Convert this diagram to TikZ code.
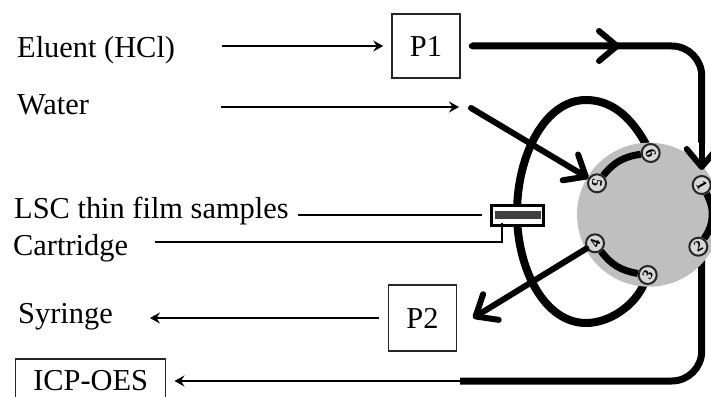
\documentclass[tikz,border=0pt]{standalone}
\usepackage{fontspec}
\setmainfont{Liberation Serif}
\usepackage{xcolor}
\usetikzlibrary{arrows.meta, backgrounds}
\definecolor{discgray}{RGB}{191,191,191}
\definecolor{bargray}{RGB}{64,64,64}
\definecolor{portgray}{RGB}{215,215,215}
\tikzset{
  label/.style={anchor=base west, inner sep=0pt, font=\fontsize{30.4}{32}\selectfont},
  boxnode/.style={draw=black!85, line width=1.5pt, inner sep=0pt, font=\fontsize{30.4}{32}\selectfont},
  thinarrow/.style={line width=1.7pt, -{Stealth[length=10pt,width=11pt,inset=3.5pt]}},
  leaderline/.style={line width=1.7pt},
  flowline/.style={line width=7pt},
  flowarrow/.style={line width=6pt, line cap=round, -{Straight Barb[length=18pt,width=30pt,line width=6pt,round]}},
  portnode/.style={circle, draw=black!85, line width=2pt, fill=portgray, minimum size=18pt, inner sep=0pt, font=\fontsize{15}{15}\selectfont\bfseries}
}
\begin{document}
\begin{tikzpicture}[x=1pt, y=-1pt]
    \clip (0,0) rectangle (711,396);
    \node[label] (eluent) at (17,57) {Eluent (HCl)};
    \node[label] (water) at (17,114) {Water};
    \node[label] (lsc) at (14,218) {LSC thin film samples};
    \node[label] (cartlabel) at (13,255) {Cartridge};
    \node[label] (syringe) at (18,323) {Syringe};

    \node[boxnode, minimum width=68pt, minimum height=64pt] (P1) at (426,46) {P1};
    \node[boxnode, minimum width=68pt, minimum height=66pt] (P2) at (422.5,318) {P2};
    \node[boxnode, minimum width=150pt, minimum height=44pt] (icp) at (90.7,381) {ICP-OES};

    % valve
    \node[circle, fill=discgray, minimum size=144pt, inner sep=0pt] (disc) at (649,214.7) {};
    \foreach \n/\x/\y/\r in {1/701.7/185/-60, 2/698.3/246.7/30, 3/647.7/275/60, 4/595/243.3/70, 5/597/183.3/-100, 6/650.7/153/-70}{
      \node[portnode] (port\n) at (\x,\y) {\rotatebox{\r}{\n}};
    }

    % cartridge
    \node[draw=black, line width=3pt, fill=white, minimum width=52pt, minimum height=20pt, inner sep=0pt] (cartridge) at (517.3,215.3) {};
    \node[fill=bargray, minimum width=46pt, minimum height=8pt, inner sep=0pt] (cartbar) at (518,214.5) {};

    \coordinate (waterend) at (459,107);
    \coordinate (inletstart) at (471,108);
    \coordinate (outlettip) at (473,318);
    \coordinate (toptip) at (620,46);
    \coordinate (botstart) at (460,381);
    \coordinate (cartlead) at (502,242);

    \begin{scope}[on background layer]
      \draw[line width=8pt] (port6) .. controls (630,115) and (610,100) .. (586,100)
        .. controls (545,100) and (517,155) .. (517,213)
        .. controls (517,270) and (545,323) .. (586,323)
        .. controls (610,323) and (635,305) .. (port3);
      \draw[flowline, rounded corners=30pt] (port1 |- port2) -- (port1 |- botstart) -- (botstart);
    \end{scope}

    % arcs between ports
    \draw[flowline] (port5) to[bend left=22] (port6);
    \draw[flowline] (port1) to[bend left=32] (port2);
    \draw[flowline] (port3) to[bend left=22] (port4);

    % flow lines
    \draw[flowline, rounded corners=30pt, shorten <=11pt] (P1.east) -- (P1.east -| port1) -- (port1 |- disc.north);
    \draw[flowarrow, shorten <=11pt] (P1.east) -- (toptip);
    \draw[flowarrow, shorten >=5pt] (port1 |- disc.north) ++(0,-30) -- (port1);
    \draw[flowarrow] (inletstart) -- (port5);
    \draw[flowarrow] (port4) -- (outlettip);

    % thin arrows
    \draw[thinarrow, shorten <=47pt, shorten >=8pt] (eluent.east |- P1.west) -- (P1.west);
    \draw[thinarrow, shorten <=132pt] (water.east |- waterend) -- (waterend);
    \draw[thinarrow, shorten <=9pt, shorten >=37pt] (P2.west) -- (syringe.east |- P2.west);
    \draw[thinarrow, shorten >=8pt] (botstart) -- (icp.east);
    \draw[leaderline, shorten <=9pt, shorten >=8pt] (lsc.east |- cartridge.west) -- (cartridge.west);
    \draw[leaderline, shorten <=27pt] (cartlabel.east |- cartlead) -- (cartlead) -- ([yshift=4pt]cartlead |- cartridge.south);
  \end{tikzpicture}
\end{document}
